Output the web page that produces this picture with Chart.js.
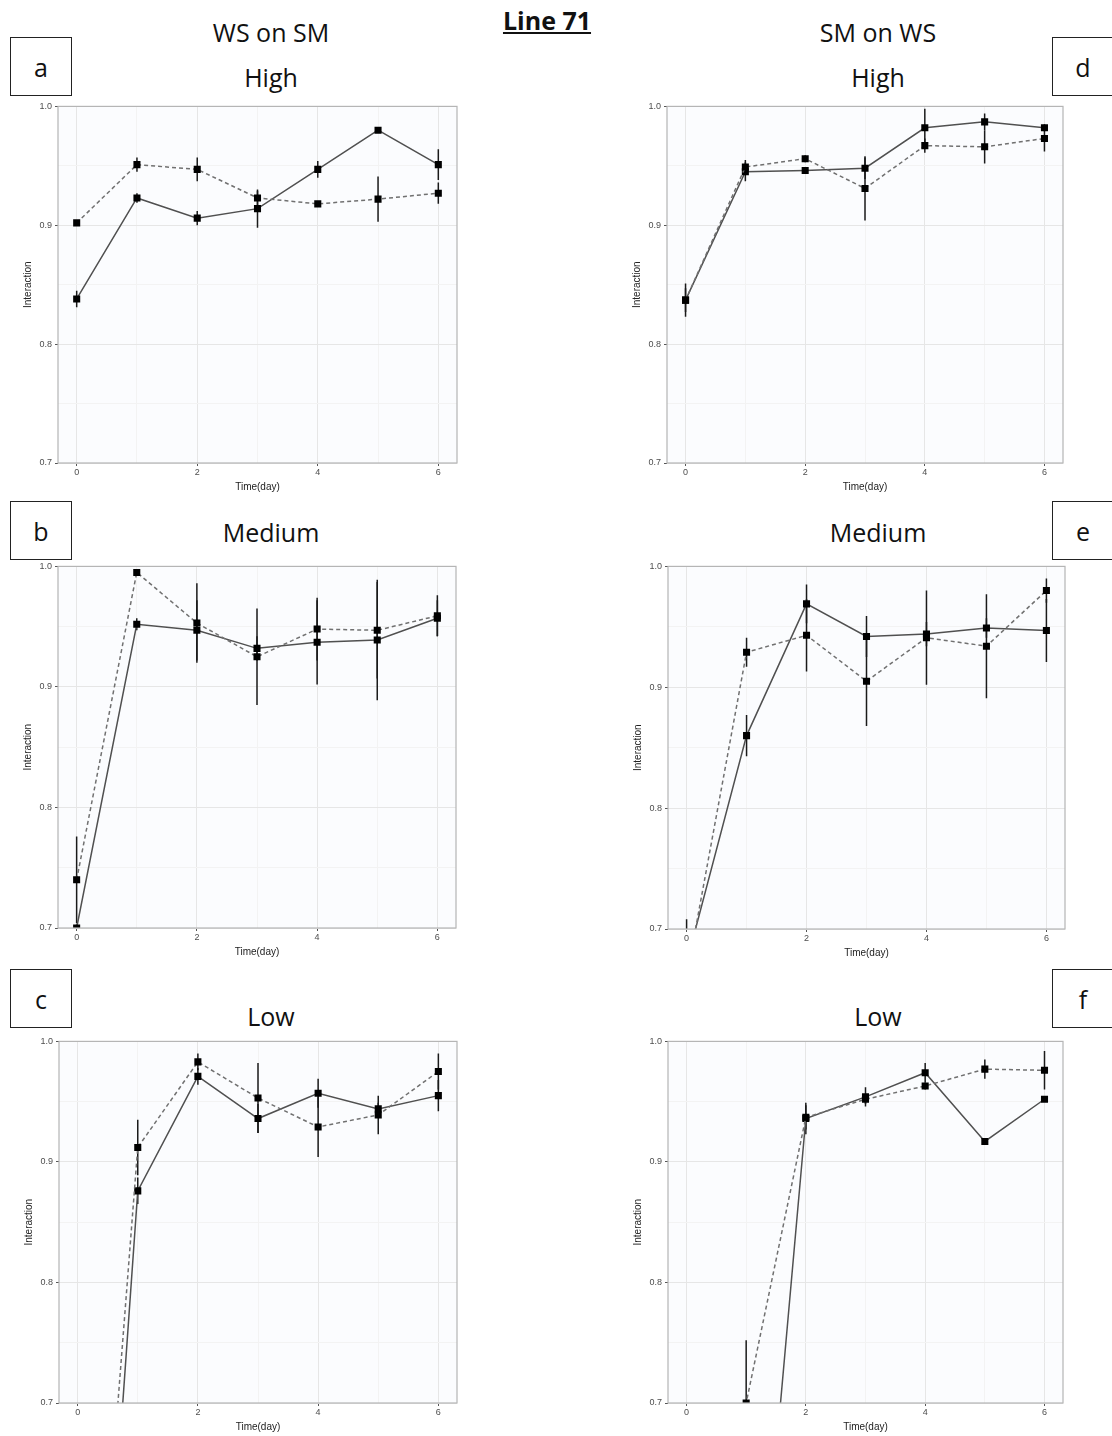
<!DOCTYPE html>
<html>
<head>
<meta charset="utf-8">
<script src="https://cdn.jsdelivr.net/npm/chart.js@4.4.1/dist/chart.umd.min.js"></script>
<style>
  body { margin: 0; background: #fff; width: 1112px; height: 1436px; position: relative; overflow: hidden; }
  canvas { position: absolute; }
  .txt { position: absolute; transform: translate(-50%, -50%); white-space: nowrap; font-family: "Open Sans", sans-serif; color: #111; }
  .box { position: absolute; border: 1.6px solid #222; box-sizing: border-box; font-family: "Open Sans", sans-serif; font-size: 25px; color: #111; display: flex; align-items: center; justify-content: center; background: #fff; }
</style>
</head>
<body>
<script>
// x values and ticks
const days = [0, 1, 2, 3, 4, 5, 6];
const xTicks = [0, 1, 2, 3, 4, 5, 6];
const yTicks = [0.7, 0.75, 0.8, 0.85, 0.9, 0.95, 1.0];

// a: WS on SM, High
const aSolid = [0.838, 0.923, 0.906, 0.914, 0.947, 0.980, 0.951];
const aSolidErr = [0.007, 0.004, 0.006, 0.016, 0.007, 0.002, 0.013];
const aDashed = [0.902, 0.951, 0.947, 0.923, 0.918, 0.922, 0.927];
const aDashedErr = [0.002, 0.006, 0.010, 0.006, 0.002, 0.019, 0.009];

// b: WS on SM, Medium
const bSolid = [0.700, 0.952, 0.947, 0.932, 0.937, 0.939, 0.957];
const bSolidErr = [0.003, 0.005, 0.025, 0.010, 0.035, 0.050, 0.015];
const bDashed = [0.740, 0.995, 0.953, 0.925, 0.948, 0.947, 0.959];
const bDashedErr = [0.036, 0.002, 0.033, 0.040, 0.026, 0.040, 0.017];

// c: WS on SM, Low
const cSolid = [0.17, 0.876, 0.971, 0.936, 0.957, 0.944, 0.955];
const cSolidErr = [0, 0.011, 0.007, 0.012, 0.012, 0.005, 0.013];
const cDashed = [0.27, 0.912, 0.983, 0.953, 0.929, 0.939, 0.975];
const cDashedErr = [0, 0.023, 0.007, 0.029, 0.025, 0.016, 0.015];

// d: SM on WS, High
const dSolid = [0.837, 0.945, 0.946, 0.948, 0.982, 0.987, 0.982];
const dSolidErr = [0.014, 0.008, 0.002, 0.009, 0.016, 0.007, 0.003];
const dDashed = [0.837, 0.949, 0.956, 0.931, 0.967, 0.966, 0.973];
const dDashedErr = [0.010, 0.006, 0.003, 0.027, 0.006, 0.014, 0.011];

// e: SM on WS, Medium
const eSolid = [0.672, 0.860, 0.969, 0.942, 0.944, 0.949, 0.947];
const eSolidErr = [0, 0.017, 0.016, 0.017, 0.010, 0.008, 0.026];
const eDashed = [0.660, 0.929, 0.943, 0.905, 0.941, 0.934, 0.980];
const eDashedErr = [0.048, 0.012, 0.030, 0.037, 0.039, 0.043, 0.010];

// f: SM on WS, Low
const fSolid = [0.10, 0.38, 0.936, 0.954, 0.974, 0.917, 0.952];
const fSolidErr = [0, 0, 0.013, 0.008, 0.008, 0.002, 0.002];
const fDashed = [0.40, 0.700, 0.937, 0.952, 0.963, 0.977, 0.976];
const fDashedErr = [0, 0.052, 0.010, 0.004, 0.003, 0.008, 0.016];

// plot area of each panel on the page
const panels = [
    { plot: [58, 106, 457, 463], solid: aSolid, solidErr: aSolidErr, dashed: aDashed, dashedErr: aDashedErr },
    { plot: [58, 566, 456, 928], solid: bSolid, solidErr: bSolidErr, dashed: bDashed, dashedErr: bDashedErr },
    { plot: [59, 1041, 457, 1403], solid: cSolid, solidErr: cSolidErr, dashed: cDashed, dashedErr: cDashedErr },
    { plot: [667, 106, 1063, 463], solid: dSolid, solidErr: dSolidErr, dashed: dDashed, dashedErr: dDashedErr },
    { plot: [668, 566, 1065, 929], solid: eSolid, solidErr: eSolidErr, dashed: eDashed, dashedErr: eDashedErr },
    { plot: [668, 1041, 1063, 1403], solid: fSolid, solidErr: fSolidErr, dashed: fDashed, dashedErr: fDashedErr }
];

const texts = [
    { t: "WS on SM", x: 271, y: 32, size: 25 },
    { t: "SM on WS", x: 878, y: 32, size: 25 },
    { t: "High", x: 271, y: 77, size: 25 },
    { t: "High", x: 878, y: 77, size: 25 },
    { t: "Medium", x: 271, y: 532, size: 25 },
    { t: "Medium", x: 878, y: 532, size: 25 },
    { t: "Low", x: 271, y: 1016, size: 25 },
    { t: "Low", x: 878, y: 1016, size: 25 }
];
const boxes = [
    { t: "a", x: 10, y: 37 }, { t: "b", x: 10, y: 501 }, { t: "c", x: 10, y: 969 },
    { t: "d", x: 1052, y: 37 }, { t: "e", x: 1052, y: 501 }, { t: "f", x: 1052, y: 969 }
];

texts.forEach(function (d) {
    const el = document.createElement("div");
    el.className = "txt";
    el.style.left = d.x + "px";
    el.style.top = d.y + "px";
    el.style.fontSize = d.size + "px";
    el.textContent = d.t;
    document.body.appendChild(el);
});
const title = document.createElement("div");
title.className = "txt";
title.style.left = "547px";
title.style.top = "20px";
title.style.fontSize = "25px";
title.style.fontWeight = "bold";
title.style.textDecoration = "underline";
title.textContent = "Line 71";
document.body.appendChild(title);

boxes.forEach(function (b) {
    const el = document.createElement("div");
    el.className = "box";
    el.style.left = b.x + "px";
    el.style.top = b.y + "px";
    el.style.width = "62px";
    el.style.height = "59px";
    el.textContent = b.t;
    document.body.appendChild(el);
});

const isMajorY = v => Math.abs(v * 10 - Math.round(v * 10)) < 1e-6;
const isMajorX = v => Math.round(v) % 2 === 0;

const panelLook = {
    id: "panelLook",
    beforeDraw(chart) {
        const a = chart.chartArea, ctx = chart.ctx;
        ctx.save();
        ctx.fillStyle = "#fbfcfe";
        ctx.fillRect(a.left, a.top, a.right - a.left, a.bottom - a.top);
        ctx.restore();
    },
    beforeDatasetsDraw(chart) {
        const a = chart.chartArea, ctx = chart.ctx;
        const xs = chart.scales.x, ys = chart.scales.y;
        ctx.save();
        ctx.beginPath();
        ctx.rect(a.left, a.top, a.right - a.left, a.bottom - a.top);
        ctx.clip();
        ctx.strokeStyle = "#1a1a1a";
        ctx.lineWidth = 1.5;
        chart.data.datasets.forEach(function (ds) {
            ds.data.forEach(function (p, i) {
                const e = ds.errors[i];
                if (!e) return;
                const px = xs.getPixelForValue(p.x);
                ctx.beginPath();
                ctx.moveTo(px, ys.getPixelForValue(p.y - e));
                ctx.lineTo(px, ys.getPixelForValue(p.y + e));
                ctx.stroke();
            });
        });
        ctx.restore();
    },
    afterDraw(chart) {
        const a = chart.chartArea, ctx = chart.ctx;
        ctx.save();
        ctx.strokeStyle = "#b5b5b5";
        ctx.lineWidth = 1.2;
        ctx.strokeRect(a.left, a.top, a.right - a.left, a.bottom - a.top);
        ctx.restore();
    }
};

const tickFont = { family: "Liberation Sans", size: 9 };
const titleFont = { family: "Liberation Sans", size: 10 };

panels.forEach(function (p) {
    const [l, t, r, b] = p.plot;
    const canvas = document.createElement("canvas");
    const padTop = 8, padRight = 8, yW = 40, xH = 30;
    const w = (r - l) + yW + padRight;
    const h = (b - t) + xH + padTop;
    canvas.width = w;
    canvas.height = h;
    canvas.style.left = (l - yW) + "px";
    canvas.style.top = (t - padTop) + "px";
    canvas.style.width = w + "px";
    canvas.style.height = h + "px";
    document.body.appendChild(canvas);

    new Chart(canvas.getContext("2d"), {
        type: "line",
        data: {
            datasets: [
                {
                    data: days.map((d, i) => ({ x: d, y: p.dashed[i] })),
                    errors: p.dashedErr,
                    borderColor: "#707070",
                    borderWidth: 1.5,
                    borderDash: [4, 3],
                    pointStyle: "rect",
                    pointRadius: 5,
                    pointBackgroundColor: "#000",
                    pointBorderWidth: 0,
                    clip: 0
                },
                {
                    data: days.map((d, i) => ({ x: d, y: p.solid[i] })),
                    errors: p.solidErr,
                    borderColor: "#505050",
                    borderWidth: 1.5,
                    pointStyle: "rect",
                    pointRadius: 5,
                    pointBackgroundColor: "#000",
                    pointBorderWidth: 0,
                    clip: 0
                }
            ]
        },
        options: {
            responsive: false,
            animation: false,
            devicePixelRatio: 1,
            layout: { padding: { top: padTop, right: padRight, left: 0, bottom: 0 } },
            plugins: { legend: { display: false }, tooltip: { enabled: false } },
            scales: {
                x: {
                    type: "linear",
                    min: -0.31,
                    max: 6.31,
                    afterBuildTicks: s => { s.ticks = xTicks.map(v => ({ value: v })); },
                    afterFit: s => { s.height = xH; },
                    ticks: {
                        callback: v => isMajorX(v) ? String(v) : "",
                        font: tickFont,
                        color: "#4d4d4d",
                        padding: 1,
                        maxRotation: 0,
                        autoSkip: false
                    },
                    grid: {
                        color: c => (c.tick && isMajorX(c.tick.value)) ? "#e6e6e6" : "#f3f3f3",
                        tickColor: c => (c.tick && isMajorX(c.tick.value)) ? "#555" : "rgba(0,0,0,0)",
                        tickLength: 3,
                        lineWidth: 1
                    },
                    border: { display: false },
                    title: { display: true, text: "Time(day)", font: titleFont, color: "#222", padding: { top: 0, bottom: 0 } }
                },
                y: {
                    min: 0.7,
                    max: 1.0,
                    afterBuildTicks: s => { s.ticks = yTicks.map(v => ({ value: v })); },
                    afterFit: s => { s.width = yW; },
                    ticks: {
                        callback: v => isMajorY(v) ? v.toFixed(1) : "",
                        font: tickFont,
                        color: "#4d4d4d",
                        padding: 3,
                        autoSkip: false
                    },
                    grid: {
                        color: c => (c.tick && isMajorY(c.tick.value)) ? "#e6e6e6" : "#f3f3f3",
                        tickColor: c => (c.tick && isMajorY(c.tick.value)) ? "#555" : "rgba(0,0,0,0)",
                        tickLength: 3,
                        lineWidth: 1
                    },
                    border: { display: false },
                    title: { display: true, text: "Interaction", font: titleFont, color: "#222", padding: { top: 4, bottom: 0 } }
                }
            }
        },
        plugins: [panelLook]
    });
});
</script>
</body>
</html>
